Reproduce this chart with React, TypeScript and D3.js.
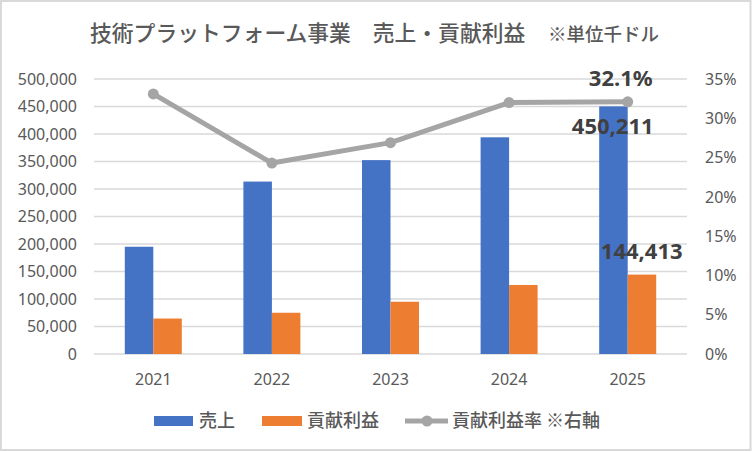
import React from "react";
import * as d3 from "d3";

const years = ["2021", "2022", "2023", "2024", "2025"];
const sales = [195000, 313500, 352500, 394000, 450211];
const contribution = [64500, 75000, 95000, 125500, 144413];
const marginPct = [33.1, 24.3, 26.9, 32.0, 32.1];
const leftTicks = [0, 50000, 100000, 150000, 200000, 250000, 300000, 350000, 400000, 450000, 500000];
const rightTicks = [0, 5, 10, 15, 20, 25, 30, 35];

const W = 752;
const H = 452;
const M = { left: 94, right: 687, top: 79, bottom: 354 };
const BLUE = "#4472c4";
const ORANGE = "#ed7d31";
const GRAY = "#a5a5a5";
const TXT = "#595959";
const LBL = "#404040";
const NUM_FONT = "'Noto Sans', 'Noto Sans CJK JP', sans-serif";
const CJK_FONT = "'Noto Sans CJK JP', 'Noto Sans', sans-serif";

export default function App() {
  const x = d3.scaleBand<string>().domain(years).range([M.left, M.right]).padding(0);
  const bw = 28.5;
  const y = d3.scaleLinear().domain([0, 500000]).range([M.bottom, M.top]);
  const y2 = d3.scaleLinear().domain([0, 35]).range([M.bottom, M.top]);
  const fmt = d3.format(",");
  const cx = (yr: string) => (x(yr) as number) + x.bandwidth() / 2;
  const line = d3
    .line<number>()
    .x((_, i) => cx(years[i]))
    .y((d) => y2(d));

  const last = years.length - 1;

  return (
    <svg width={W} height={H} style={{ display: "block", position: "absolute", left: 0, top: 0 }}>
      <rect x={0} y={0} width={W} height={H} fill="#ffffff" />
      <rect x={1} y={1} width={W - 2.5} height={H - 3} fill="none" stroke="#d9d9d9" strokeWidth={2} />
      {/* title */}
      <text x={90} y={41} fontFamily={CJK_FONT} fontSize={21.8} fontWeight={500} fill={TXT}>
        技術プラットフォーム事業　売上・貢献利益
      </text>
      <text x={548} y={41} fontFamily={CJK_FONT} fontSize={18.5} fontWeight={500} fill={TXT}>
        ※単位千ドル
      </text>
      {/* gridlines */}
      {leftTicks.map((t) => (
        <line key={t} x1={M.left} x2={M.right} y1={y(t)} y2={y(t)} stroke="#d9d9d9" strokeWidth={1.3} />
      ))}
      {/* left axis labels */}
      {leftTicks.map((t) => (
        <text key={"l" + t} x={77} y={y(t)} dy="0.36em" textAnchor="end" fontFamily={NUM_FONT} fontSize={16} fill={TXT}>
          {fmt(t)}
        </text>
      ))}
      {/* right axis labels */}
      {rightTicks.map((t) => (
        <text key={"r" + t} x={705} y={y2(t)} dy="0.36em" textAnchor="start" fontFamily={NUM_FONT} fontSize={16} fill={TXT}>
          {t + "%"}
        </text>
      ))}
      {/* x labels */}
      {years.map((yr) => (
        <text key={"x" + yr} x={cx(yr)} y={385} textAnchor="middle" fontFamily={NUM_FONT} fontSize={16} fill={TXT}>
          {yr}
        </text>
      ))}
      {/* bars */}
      {years.map((yr, i) => (
        <g key={"b" + yr}>
          <rect x={cx(yr) - bw} y={y(sales[i])} width={bw} height={y(0) - y(sales[i])} fill={BLUE} />
          <rect x={cx(yr)} y={y(contribution[i])} width={bw} height={y(0) - y(contribution[i])} fill={ORANGE} />
        </g>
      ))}
      {/* line */}
      <path d={line(marginPct) || ""} fill="none" stroke={GRAY} strokeWidth={5} strokeLinejoin="round" />
      {marginPct.map((v, i) => (
        <circle key={"c" + i} cx={cx(years[i])} cy={y2(v)} r={5.5} fill={GRAY} />
      ))}
      {/* data labels */}
      <text x={cx(years[last]) - 7} y={86} textAnchor="middle" fontFamily={NUM_FONT} fontWeight="bold" fontSize={22} fill={LBL}>
        {marginPct[last].toFixed(1) + "%"}
      </text>
      <text x={cx(years[last]) - 15} y={134} textAnchor="middle" fontFamily={NUM_FONT} fontWeight="bold" fontSize={22} fill={LBL}>
        {fmt(sales[last])}
      </text>
      <text x={cx(years[last]) + 14} y={259} textAnchor="middle" fontFamily={NUM_FONT} fontWeight="bold" fontSize={22} fill={LBL}>
        {fmt(contribution[last])}
      </text>
      {/* legend */}
      <rect x={154} y={416} width={39} height={10} fill={BLUE} />
      <text x={199} y={421} dy="0.36em" fontFamily={CJK_FONT} fontSize={18} fontWeight={500} fill={TXT}>売上</text>
      <rect x={262} y={416} width={40} height={10} fill={ORANGE} />
      <text x={307} y={421} dy="0.36em" fontFamily={CJK_FONT} fontSize={18} fontWeight={500} fill={TXT}>貢献利益</text>
      <line x1={405} x2={448} y1={421} y2={421} stroke={GRAY} strokeWidth={5} />
      <circle cx={427} cy={421} r={5.5} fill={GRAY} />
      <text x={452} y={421} dy="0.36em" fontFamily={CJK_FONT} fontSize={18} fontWeight={500} fill={TXT}>貢献利益率 ※右軸</text>
    </svg>
  );
}
